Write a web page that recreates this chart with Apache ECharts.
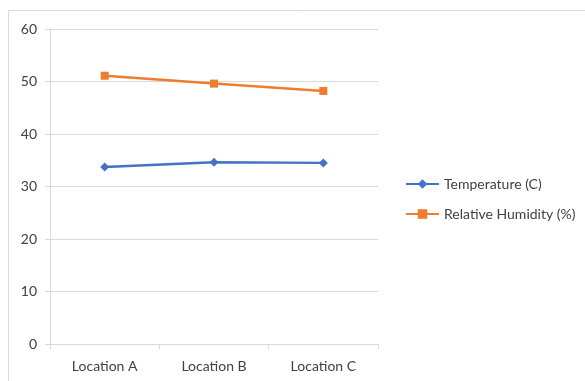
<!DOCTYPE html>
<html><head><meta charset="utf-8">
<script src="https://cdn.jsdelivr.net/npm/echarts@6/dist/echarts.min.js"></script>
<style>html,body{margin:0;padding:0;background:#fff}#c{width:585px;height:381px}</style>
</head><body><div id="c"></div>
<script>
const categories = ['Location A', 'Location B', 'Location C'];
const temperature = [33.7, 34.6, 34.5];
const humidity = [51.1, 49.6, 48.2];
const yTicks = [0, 10, 20, 30, 40, 50, 60];

const chart = echarts.init(document.getElementById('c'));
const font = 'Lato, "Open Sans", sans-serif';
chart.setOption({
  animation: false,
  graphic: [{type:'rect', shape:{x:8.5, y:10.5, width:700, height:500}, style:{fill:'none', stroke:'#d9d9d9', lineWidth:1}, silent:true}],
  grid: {left: 50, right: 207, top: 29, bottom: 37},
  legend: {
    orient: 'vertical', left: 400, top: 172, itemGap: 16, itemWidth: 33, itemHeight: 12,
    textStyle: {color: '#404040', fontSize: 14, fontFamily: font},
    data: ['Temperature (C)', 'Relative Humidity (%)']
  },
  xAxis: {
    type: 'category', data: categories, boundaryGap: true,
    axisLine: {lineStyle: {color: '#d9d9d9'}},
    axisTick: {show: true, length: 5, lineStyle: {color: '#d9d9d9'}},
    axisLabel: {color: '#404040', fontSize: 14, fontFamily: font, margin: 15}
  },
  yAxis: {
    type: 'value', min: yTicks[0], max: yTicks[yTicks.length-1], interval: 10,
    axisLine: {show: true, lineStyle: {color: '#d9d9d9'}},
    axisTick: {show: true, length: 5, lineStyle: {color: '#d9d9d9'}},
    splitLine: {lineStyle: {color: '#d9d9d9'}},
    axisLabel: {color: '#404040', fontSize: 14, fontFamily: font, margin: 13}
  },
  series: [
    {name: 'Temperature (C)', type: 'line', data: temperature, symbol: 'diamond', symbolSize: 9,
     lineStyle: {color: '#4472C4', width: 2.5}, itemStyle: {color: '#4472C4'}},
    {name: 'Relative Humidity (%)', type: 'line', data: humidity, symbol: 'rect', symbolSize: 8,
     lineStyle: {color: '#ED7D31', width: 2.5}, itemStyle: {color: '#ED7D31'}}
  ]
});
</script></body></html>
